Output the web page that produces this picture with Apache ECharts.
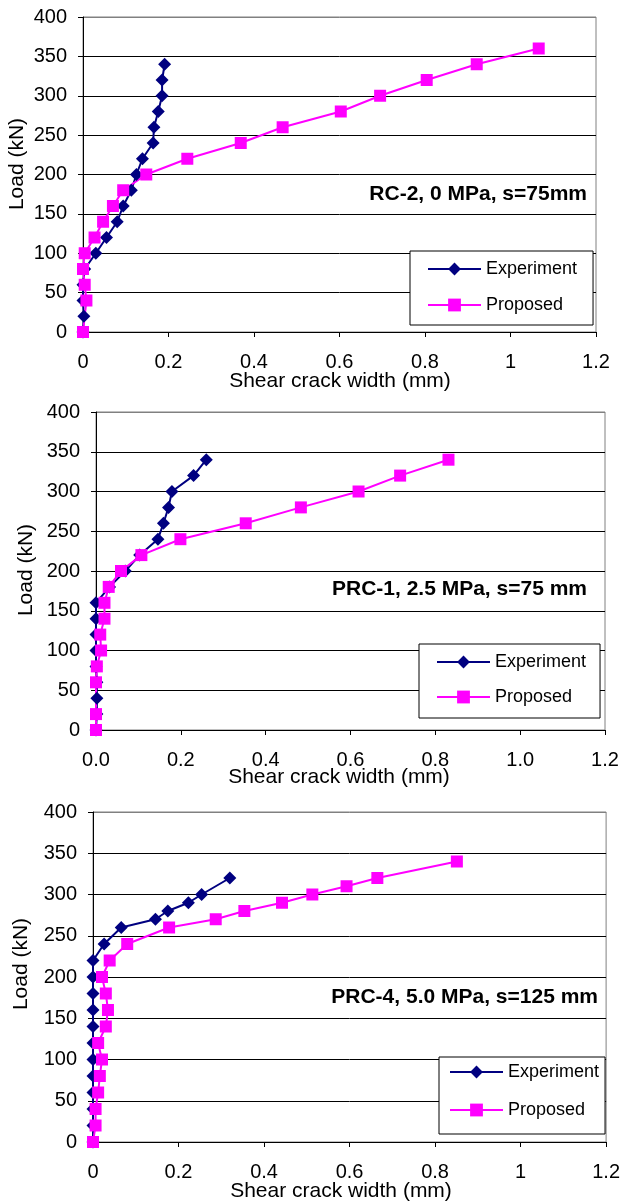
<!DOCTYPE html>
<html>
<head>
<meta charset="utf-8">
<script src="https://cdn.jsdelivr.net/npm/echarts@6/dist/echarts.min.js"></script>
<style>
  html, body { margin: 0; padding: 0; background: #fff; }
  #chart { width: 623px; height: 1204px; }
</style>
</head>
<body>
<div id="chart"></div>
<script>
// ---------- Data (load in kN, shear crack width in mm) ----------
// Panel 1: RC-2, 0 MPa, s=75mm
const rc2ExpLoad   = [0, 20, 40, 60, 80, 100, 120, 140, 160, 180, 200, 220, 240, 260, 280, 300, 320, 340];
const rc2ExpWidth  = [0, 0.002, 0, 0, 0.004, 0.030, 0.055, 0.080, 0.094, 0.113, 0.125, 0.139, 0.164, 0.166, 0.176, 0.185, 0.185, 0.191];
const rc2PropLoad  = [0, 40, 60, 80, 100, 120, 140, 160, 180, 200, 220, 240, 260, 280, 300, 320, 340, 360];
const rc2PropWidth = [0, 0.008, 0.004, 0, 0.004, 0.027, 0.047, 0.070, 0.094, 0.148, 0.244, 0.369, 0.467, 0.603, 0.695, 0.804, 0.921, 1.066];

// Panel 2: PRC-1, 2.5 MPa, s=75 mm
const prc1ExpLoad   = [0, 20, 40, 60, 80, 100, 120, 140, 160, 180, 200, 220, 240, 260, 280, 300, 320, 340];
const prc1ExpWidth  = [0, 0.002, 0.002, 0.002, 0, 0, 0, 0, 0, 0.032, 0.069, 0.103, 0.146, 0.159, 0.171, 0.179, 0.230, 0.260];
const prc1PropLoad  = [0, 20, 60, 80, 100, 120, 140, 160, 180, 200, 220, 240, 260, 280, 300, 320, 340];
const prc1PropWidth = [0, 0, 0, 0.002, 0.012, 0.010, 0.020, 0.020, 0.030, 0.059, 0.107, 0.199, 0.353, 0.483, 0.619, 0.717, 0.831];

// Panel 3: PRC-4, 5.0 MPa, s=125 mm
const prc4ExpLoad   = [0, 20, 40, 60, 80, 100, 120, 140, 160, 180, 200, 220, 240, 260, 270, 280, 290, 300, 320];
const prc4ExpWidth  = [0, 0, 0, 0, 0, 0, 0, 0, 0, 0, 0, 0, 0.026, 0.066, 0.146, 0.175, 0.223, 0.254, 0.320];
const prc4PropLoad  = [0, 20, 40, 60, 80, 100, 120, 140, 160, 180, 200, 220, 240, 260, 270, 280, 290, 300, 310, 320, 340];
const prc4PropWidth = [0, 0.006, 0.006, 0.012, 0.016, 0.021, 0.012, 0.030, 0.035, 0.030, 0.021, 0.039, 0.080, 0.178, 0.287, 0.354, 0.442, 0.513, 0.593, 0.665, 0.851];

const seriesNames = ['Experiment', 'Proposed'];
const panelLabels = ['RC-2, 0 MPa, s=75mm', 'PRC-1, 2.5 MPa, s=75 mm', 'PRC-4, 5.0 MPa, s=125 mm'];
const xTitle = 'Shear crack width (mm)';
const yTitle = 'Load (kN)';

// ---------- Layout / style ----------
const FONT = '"Liberation Sans", Arial, sans-serif';
const NAVY = '#000080';
const MAGENTA = '#FF00FF';

const grids = [
  { left: 83, top: 17, width: 513, height: 315 },
  { left: 96, top: 412, width: 509, height: 318 },
  { left: 93, top: 812, width: 516, height: 330 }
];

const panels = [
  { exp: [rc2ExpWidth, rc2ExpLoad], prop: [rc2PropWidth, rc2PropLoad], decimals: false },
  { exp: [prc1ExpWidth, prc1ExpLoad], prop: [prc1PropWidth, prc1PropLoad], decimals: true },
  { exp: [prc4ExpWidth, prc4ExpLoad], prop: [prc4PropWidth, prc4PropLoad], decimals: false }
];

const legendPos = [
  { left: 410, top: 251, padding: [9, 16, 11, 17], itemGap: 18, itemWidth: 53 },
  { left: 419, top: 644, padding: [9, 14, 12, 17], itemGap: 17, itemWidth: 53 },
  { left: 439, top: 1057, padding: [6, 6, 15, 10], itemGap: 20, itemWidth: 53 }
];

const xTitlePos = [[340, 381], [339, 777], [341, 1191]];
const yTitlePos = [[17, 164], [26, 570], [21, 964]];
const notePos = [[587, 194], [587, 589], [598, 997]];

function zip(xs, ys) { return xs.map((x, i) => [x, ys[i]]); }

const gridLineColors = ['#000', '#000', '#000', '#000', '#000', '#000', '#000', '#000', '#808080'];

const option = {
  animation: false,
  backgroundColor: '#fff',
  grid: grids.map(g => Object.assign({
    show: true, borderColor: '#808080', borderWidth: 1, backgroundColor: 'transparent', containLabel: false
  }, g)),
  xAxis: panels.map((p, i) => ({
    type: 'value', gridIndex: i, min: 0, max: 1.2, interval: 0.2,
    axisLine: { show: true, onZero: false, lineStyle: { color: '#000', width: 1 } },
    axisTick: { show: true, inside: false, length: 5, lineStyle: { color: '#000' } },
    splitLine: { show: false },
    axisLabel: {
      margin: 20, fontSize: 20, color: '#000', fontFamily: FONT,
      formatter: v => p.decimals ? v.toFixed(1) : String(Math.round(v * 10) / 10)
    }
  })),
  yAxis: panels.map((p, i) => ({
    type: 'value', gridIndex: i, min: 0, max: 400, interval: 50,
    axisLine: { show: true, onZero: false, lineStyle: { color: '#000', width: 1 } },
    axisTick: { show: true, inside: false, length: 5, lineStyle: { color: '#000' } },
    splitLine: { show: true, lineStyle: { color: gridLineColors, width: 1 } },
    axisLabel: { margin: 16, fontSize: 20, color: '#000', fontFamily: FONT }
  })),
  legend: legendPos.map(l => ({
    data: seriesNames, orient: 'vertical', left: l.left, top: l.top,
    padding: l.padding, itemGap: l.itemGap, itemWidth: l.itemWidth, itemHeight: 16,
    backgroundColor: '#fff', borderColor: '#000', borderWidth: 1, borderRadius: 0,
    selectedMode: false,
    textStyle: { fontSize: 18, color: '#000', fontFamily: FONT }
  })),
  series: [],
  graphic: []
};

panels.forEach((p, i) => {
  option.series.push({
    name: seriesNames[0], type: 'line', xAxisIndex: i, yAxisIndex: i,
    data: zip(p.exp[0], p.exp[1]), clip: false,
    symbol: 'diamond', symbolSize: 13,
    lineStyle: { color: NAVY, width: 2 }, itemStyle: { color: NAVY }
  });
  option.series.push({
    name: seriesNames[1], type: 'line', xAxisIndex: i, yAxisIndex: i,
    data: zip(p.prop[0], p.prop[1]), clip: false,
    symbol: 'rect', symbolSize: 12,
    lineStyle: { color: MAGENTA, width: 2 }, itemStyle: { color: MAGENTA }
  });
  option.graphic.push({
    type: 'text', x: xTitlePos[i][0], y: xTitlePos[i][1],
    style: { text: xTitle, fontSize: 21, fontFamily: FONT, fill: '#000', align: 'center', verticalAlign: 'middle' }
  });
  option.graphic.push({
    type: 'text', x: yTitlePos[i][0], y: yTitlePos[i][1], rotation: Math.PI / 2,
    style: { text: yTitle, fontSize: 21, fontFamily: FONT, fill: '#000', align: 'center', verticalAlign: 'middle' }
  });
  option.graphic.push({
    type: 'text', x: notePos[i][0], y: notePos[i][1],
    style: { text: panelLabels[i], fontSize: 21, fontWeight: 'bold', fontFamily: FONT, fill: '#000', align: 'right', verticalAlign: 'middle' }
  });
});

const chart = echarts.init(document.getElementById('chart'), null, { renderer: 'canvas' });
chart.setOption(option);
</script>
</body>
</html>
